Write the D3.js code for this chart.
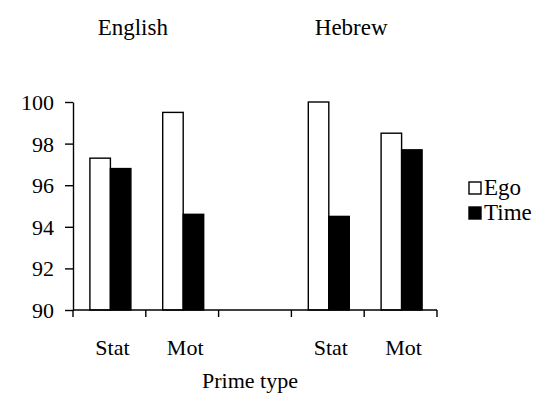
<!DOCTYPE html>
<html>
<head>
<meta charset="utf-8">
<script src="https://cdn.jsdelivr.net/npm/d3@7/dist/d3.min.js"></script>
<style>
  body { margin: 0; background: #fff; }
</style>
</head>
<body>
<div id="chart"></div>
<script>
// chart values
const slots = ["en-stat", "en-mot", "gap", "he-stat", "he-mot"]
const slotLabels = ["Stat", "Mot", "", "Stat", "Mot"]
const languages = ["English", "Hebrew"]
const languageSlots = ["en-mot", "he-mot"]
const series = ["Ego", "Time"]
const egoValues = [97.3, 99.5, null, 100, 98.5]
const timeValues = [96.8, 94.6, null, 94.5, 97.7]
const yTicks = [90, 92, 94, 96, 98, 100]

const FONT = "Liberation Serif, DejaVu Serif, serif"
const width = 556, height = 402
const svg = d3.select("#chart").append("svg")
    .attr("width", width)
    .attr("height", height)
    .style("font-family", FONT)

const x = d3.scaleBand().domain(slots).range([73, 437]).padding(0)
const y = d3.scaleLinear().domain([90, 100]).range([310, 102])

const bw = x.bandwidth()
const x1 = d3.scaleBand().domain(series).range([bw / 2 - 19.5, bw / 2 + 21.5])

const fills = { Ego: "#fff", Time: "#000" }

// bars
const rows = slots.map(function(s, i) {
    return { slot: s, Ego: egoValues[i], Time: timeValues[i] }
}).filter(function(r) { return r.Ego !== null })

const groups = svg.append("g").selectAll("g")
    .data(rows)
    .join("g")
    .attr("transform", function(d) { return "translate(" + x(d.slot) + ",0)" })

groups.selectAll("rect")
    .data(function(d) { return series.map(function(k) { return { key: k, value: d[k] } }) })
    .join("rect")
    .attr("x", function(d) { return x1(d.key) })
    .attr("width", x1.bandwidth())
    .attr("y", function(d) { return y(d.value) })
    .attr("height", function(d) { return y(90) - y(d.value) })
    .attr("fill", function(d) { return fills[d.key] })
    .attr("stroke", "#000")
    .attr("stroke-width", 1.4)

// y axis
const yAxis = svg.append("g")
    .attr("transform", "translate(73,0)")
    .call(d3.axisLeft(y).tickValues(yTicks).tickSize(8).tickSizeOuter(0).tickPadding(11))
yAxis.attr("font-family", null).attr("font-size", 22)
yAxis.select(".domain").attr("stroke-width", 1.4)
yAxis.selectAll(".tick line").attr("stroke-width", 1.4)
yAxis.selectAll(".tick text").attr("fill", "#000").attr("dy", "0.34em")

// x axis, ticks on band edges
const xAxis = svg.append("g").attr("transform", "translate(0,310)")
xAxis.append("line")
    .attr("x1", x.range()[0]).attr("x2", x.range()[1])
    .attr("stroke", "#000").attr("stroke-width", 1.4)
const edges = slots.map(function(s) { return x(s) }).concat([x.range()[1]])
xAxis.selectAll(".edge")
    .data(edges)
    .join("line")
    .attr("class", "edge")
    .attr("x1", function(d) { return d }).attr("x2", function(d) { return d })
    .attr("y1", 0).attr("y2", 7)
    .attr("stroke", "#000").attr("stroke-width", 1.4)
xAxis.selectAll(".lbl")
    .data(slots)
    .join("text")
    .attr("class", "lbl")
    .attr("x", function(d) { return x(d) + bw / 2 + 3 })
    .attr("y", 45)
    .attr("text-anchor", "middle")
    .attr("font-size", 22)
    .text(function(d, i) { return slotLabels[i] })

// axis title
svg.append("text")
    .attr("x", 250).attr("y", 388)
    .attr("text-anchor", "middle")
    .attr("font-size", 22)
    .text("Prime type")

// language headings
svg.selectAll(".lang")
    .data(languages)
    .join("text")
    .attr("class", "lang")
    .attr("x", function(d, i) { return x(languageSlots[i]) - 13 })
    .attr("y", 35)
    .attr("text-anchor", "middle")
    .attr("font-size", 23)
    .text(function(d) { return d })

// legend
const legend = svg.append("g").attr("transform", "translate(469,182)")
const items = legend.selectAll("g")
    .data(series)
    .join("g")
    .attr("transform", function(d, i) { return "translate(0," + (i * 25) + ")" })
items.append("rect")
    .attr("width", 12).attr("height", 12)
    .attr("fill", function(d) { return fills[d] })
    .attr("stroke", "#000").attr("stroke-width", 1.4)
items.append("text")
    .attr("x", 15).attr("y", 13)
    .attr("font-size", 23)
    .text(function(d) { return d })
</script>
</body>
</html>
